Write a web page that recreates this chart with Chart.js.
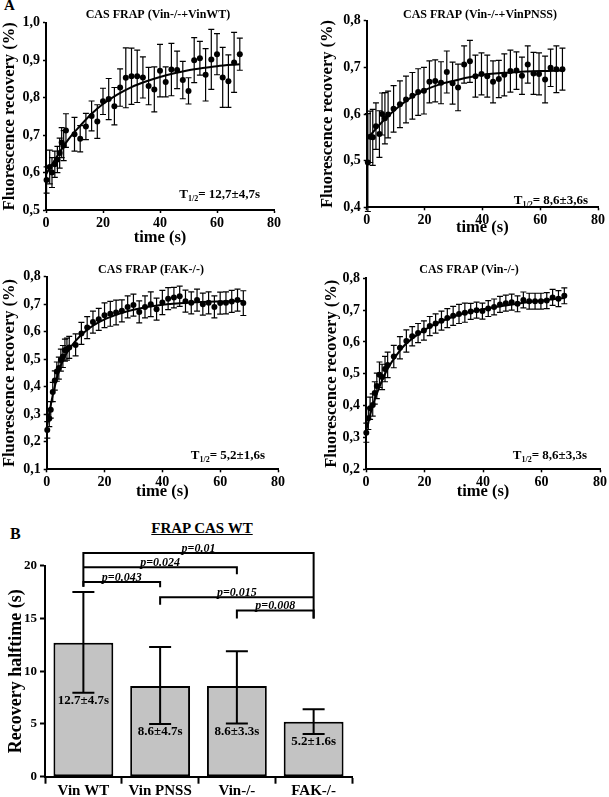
<!DOCTYPE html>
<html>
<head>
<meta charset="utf-8">
<script src="https://cdn.jsdelivr.net/npm/chart.js@4"></script>
<style>
  body { margin: 0; background: #fff; }
  #page { position: relative; width: 609px; height: 797px; overflow: hidden; font-family: "Liberation Serif", serif; font-weight: bold; color: #000; }
  canvas, .txt { position: absolute; }
  .txt { line-height: 1; white-space: nowrap; }
</style>
</head>
<body>
<div id="page">
  <div class="txt" style="left:4px; top:-2px; font-size:15px;">A</div>
  <div class="txt" style="left:10px; top:526px; font-size:16px;">B</div>
  <div class="txt" style="left:145px; top:521px; width:114px; text-align:center; font-size:15px; text-decoration:underline;">FRAP CAS WT</div>
  <canvas id="wt" width="305" height="255" style="left:0; top:0;"></canvas>
  <canvas id="pnss" width="304" height="245" style="left:305px; top:0;"></canvas>
  <canvas id="fak" width="305" height="250" style="left:0; top:260px;"></canvas>
  <canvas id="vin" width="304" height="250" style="left:305px; top:260px;"></canvas>
  <canvas id="bars" width="380" height="297" style="left:0; top:500px;"></canvas>
</div>
<script>
// --- Vin-/- + VinWT
const wtTime = [0.2, 1.3, 2.1, 3.1, 4.0, 4.8, 5.5, 6.2, 7.0, 10, 12, 14, 16, 18, 20, 22, 24, 26, 28, 30, 32, 34, 36, 38, 40, 42, 44, 46, 48, 50, 52, 54, 56, 58, 60, 62, 64, 66, 68];
const wtMean = [0.580, 0.615, 0.600, 0.622, 0.635, 0.652, 0.680, 0.672, 0.712, 0.702, 0.690, 0.723, 0.751, 0.736, 0.790, 0.796, 0.777, 0.827, 0.853, 0.857, 0.857, 0.854, 0.831, 0.822, 0.872, 0.842, 0.875, 0.874, 0.847, 0.818, 0.900, 0.905, 0.861, 0.902, 0.916, 0.854, 0.844, 0.894, 0.916];
const wtErr = [0.035, 0.045, 0.04, 0.035, 0.035, 0.04, 0.04, 0.04, 0.045, 0.045, 0.035, 0.035, 0.04, 0.045, 0.035, 0.055, 0.05, 0.05, 0.08, 0.075, 0.07, 0.055, 0.05, 0.06, 0.07, 0.04, 0.07, 0.05, 0.05, 0.035, 0.06, 0.045, 0.07, 0.08, 0.055, 0.08, 0.07, 0.08, 0.043];
const wtFitTime = [0, 4, 8, 12, 16, 20, 25, 30, 35, 40, 45, 50, 55, 60, 68];
const wtFit = [0.595, 0.645, 0.69, 0.725, 0.757, 0.783, 0.808, 0.828, 0.843, 0.855, 0.865, 0.873, 0.879, 0.884, 0.889];

// --- Vin-/- + VinPNSS
const pnssTime = [0.4, 1.2, 2.1, 3.2, 4.4, 5.3, 6.3, 7.4, 9.3, 11.5, 13.6, 15.8, 17.8, 19.8, 21.7, 23.7, 25.7, 27.7, 29.7, 31.6, 33.7, 35.7, 37.6, 39.7, 41.7, 43.7, 45.7, 47.6, 49.7, 51.8, 53.7, 55.7, 57.7, 59.6, 61.7, 63.6, 65.6, 67.7];
const pnssMean = [0.496, 0.551, 0.550, 0.574, 0.557, 0.600, 0.591, 0.599, 0.611, 0.621, 0.631, 0.639, 0.647, 0.650, 0.669, 0.671, 0.667, 0.690, 0.666, 0.657, 0.706, 0.713, 0.681, 0.686, 0.681, 0.669, 0.675, 0.684, 0.692, 0.693, 0.682, 0.706, 0.687, 0.686, 0.674, 0.699, 0.696, 0.696];
const pnssErr = [0.105, 0.055, 0.06, 0.05, 0.05, 0.045, 0.055, 0.05, 0.05, 0.05, 0.05, 0.05, 0.05, 0.05, 0.045, 0.045, 0.045, 0.045, 0.045, 0.05, 0.04, 0.045, 0.045, 0.045, 0.045, 0.045, 0.04, 0.045, 0.045, 0.04, 0.04, 0.04, 0.045, 0.045, 0.05, 0.04, 0.05, 0.045];
const pnssFitTime = [0, 3, 6, 10, 15, 20, 25, 30, 40, 50, 60, 68];
const pnssFit = [0.545, 0.567, 0.587, 0.610, 0.634, 0.651, 0.663, 0.671, 0.684, 0.689, 0.692, 0.693];

// --- FAK-/-
const fakTime = [0.2, 0.9, 1.4, 2.1, 2.8, 3.5, 4.2, 4.9, 5.6, 6.3, 7.0, 7.8, 10, 12, 14, 16, 18, 20, 22, 24, 26, 28, 30, 32, 34, 36, 38, 40, 42, 44, 46, 48, 50, 52, 54, 56, 58, 60, 62, 64, 66, 68];
const fakMean = [0.243, 0.285, 0.316, 0.381, 0.423, 0.455, 0.468, 0.497, 0.510, 0.533, 0.537, 0.543, 0.552, 0.594, 0.615, 0.635, 0.645, 0.660, 0.665, 0.670, 0.676, 0.690, 0.697, 0.672, 0.690, 0.700, 0.682, 0.706, 0.720, 0.724, 0.729, 0.711, 0.705, 0.715, 0.700, 0.705, 0.690, 0.704, 0.705, 0.710, 0.715, 0.704];
const fakErr = [0.03, 0.03, 0.03, 0.035, 0.035, 0.035, 0.04, 0.04, 0.04, 0.04, 0.04, 0.04, 0.04, 0.04, 0.04, 0.04, 0.04, 0.045, 0.045, 0.045, 0.04, 0.04, 0.04, 0.04, 0.04, 0.045, 0.04, 0.044, 0.04, 0.037, 0.037, 0.04, 0.04, 0.04, 0.04, 0.04, 0.04, 0.04, 0.04, 0.04, 0.04, 0.045];
const fakFitTime = [0, 1, 2, 3, 4, 6, 8, 10, 13, 16, 20, 25, 30, 40, 50, 60, 68];
const fakFit = [0.25, 0.31, 0.365, 0.41, 0.45, 0.505, 0.54, 0.567, 0.598, 0.622, 0.645, 0.665, 0.68, 0.698, 0.706, 0.71, 0.712];

// --- Vin-/-
const vinTime = [0.1, 0.8, 1.4, 2.3, 3.0, 3.7, 4.6, 5.5, 6.5, 7.4, 9.5, 11.6, 13.8, 15.8, 17.8, 19.8, 21.8, 23.8, 25.8, 27.8, 29.8, 31.8, 33.8, 35.8, 37.8, 39.8, 41.8, 43.8, 45.8, 47.8, 49.8, 51.8, 53.8, 55.8, 57.8, 59.8, 61.8, 63.8, 65.8, 67.8];
const vinMean = [0.315, 0.360, 0.392, 0.402, 0.440, 0.462, 0.497, 0.490, 0.515, 0.528, 0.554, 0.582, 0.603, 0.618, 0.628, 0.636, 0.650, 0.658, 0.667, 0.675, 0.682, 0.688, 0.692, 0.696, 0.700, 0.697, 0.705, 0.710, 0.718, 0.722, 0.725, 0.720, 0.732, 0.728, 0.728, 0.728, 0.730, 0.740, 0.736, 0.745];
const vinErr = [0.03, 0.035, 0.035, 0.035, 0.035, 0.04, 0.04, 0.04, 0.04, 0.04, 0.035, 0.035, 0.035, 0.03, 0.03, 0.03, 0.03, 0.03, 0.03, 0.03, 0.03, 0.03, 0.03, 0.025, 0.025, 0.025, 0.025, 0.025, 0.025, 0.025, 0.025, 0.025, 0.025, 0.025, 0.025, 0.025, 0.025, 0.025, 0.025, 0.025];
const vinFitTime = [0, 1, 2, 3, 4, 6, 8, 10, 13, 16, 20, 25, 30, 35, 40, 50, 60, 68];
const vinFit = [0.32, 0.355, 0.39, 0.42, 0.445, 0.49, 0.525, 0.553, 0.588, 0.612, 0.638, 0.662, 0.68, 0.693, 0.703, 0.718, 0.73, 0.738];

// --- B: recovery halftime
const barLabels = ['Vin WT', 'Vin PNSS', 'Vin-/-', 'FAK-/-'];
const halftime = [12.7, 8.6, 8.6, 5.2];
const halftimeHigh = [17.5, 12.3, 11.9, 6.4];
const halftimeLow = [7.95, 5.0, 5.05, 4.05];
const barText = ['12.7±4.7s', '8.6±4.7s', '8.6±3.3s', '5.2±1.6s'];

// significance brackets (category index from/to, heights in s)
const pText = ['p=0.01', 'p=0.024', 'p=0.043', 'p=0.015', 'p=0.008'];
const pFrom = [0, 0, 0, 1, 2];
const pTo = [3, 2, 1, 3, 3];
const pLevel = [21.2, 19.85, 18.45, 17.0, 15.75];
const pLeftEnd = [18.0, 19.85, 18.0, 16.3, 15.0];
const pRightEnd = [15.0, 19.2, 17.95, 17.0, 15.0];

Chart.defaults.font.family = '"Liberation Serif", serif';
Chart.defaults.font.weight = 'bold';
Chart.defaults.color = '#000';

const FONT = '"Liberation Serif", serif';

const errorBars = {
  id: 'errorBars',
  afterDatasetsDraw(chart) {
    const { ctx, scales: { y } } = chart;
    chart.data.datasets.forEach((ds, i) => {
      if (!ds.errLow) return;
      const meta = chart.getDatasetMeta(i);
      const cap = ds.capWidth || 3;
      ctx.save();
      ctx.strokeStyle = '#000';
      ctx.lineWidth = ds.errWidth || 1.2;
      meta.data.forEach((el, j) => {
        const top = y.getPixelForValue(ds.errHigh[j]);
        const bot = y.getPixelForValue(ds.errLow[j]);
        ctx.beginPath();
        ctx.moveTo(el.x, top); ctx.lineTo(el.x, bot);
        ctx.moveTo(el.x - cap, top); ctx.lineTo(el.x + cap, top);
        ctx.moveTo(el.x - cap, bot); ctx.lineTo(el.x + cap, bot);
        ctx.stroke();
      });
      ctx.restore();
    });
  }
};

const panelText = {
  id: 'panelText',
  afterDraw(chart, args, opts) {
    const { ctx, chartArea } = chart;
    ctx.save();
    ctx.fillStyle = '#000';
    ctx.textBaseline = 'middle';
    ctx.textAlign = 'center';
    ctx.font = 'bold 12px ' + FONT;
    ctx.fillText(opts.title, opts.titleX, opts.titleY);

    // T1/2 annotation, right aligned
    ctx.textAlign = 'left';
    ctx.textBaseline = 'alphabetic';
    const big = 'bold 13px ' + FONT, small = 'bold 8px ' + FONT;
    const rest = '= ' + opts.t12;
    ctx.font = big;
    const wT = ctx.measureText('T').width, wR = ctx.measureText(rest).width;
    ctx.font = small;
    const wS = ctx.measureText('1/2').width;
    let xx = chartArea.right - opts.dx - (wT + wS + wR);
    const base = chartArea.bottom - opts.dy;
    ctx.font = big; ctx.fillText('T', xx, base); xx += wT;
    ctx.font = small; ctx.fillText('1/2', xx, base + 3); xx += wS;
    ctx.font = big; ctx.fillText(rest, xx, base);
    ctx.restore();
  }
};

const comma = v => v.toFixed(1).replace('.', ',');

function frapPanel(id, time, mean, err, fitTime, fit, yMin, yMax, lay) {
  return new Chart(document.getElementById(id), {
    type: 'scatter',
    data: {
      datasets: [
        {
          data: time.map((t, i) => ({ x: t, y: mean[i] })),
          errLow: mean.map((m, i) => m - err[i]),
          errHigh: mean.map((m, i) => m + err[i]),
          pointRadius: 3, backgroundColor: '#000', borderColor: '#000', borderWidth: 0,
          clip: false
        },
        {
          data: fitTime.map((t, i) => ({ x: t, y: fit[i] })),
          showLine: true, pointRadius: 0, borderColor: '#000', borderWidth: 2,
          cubicInterpolationMode: 'monotone', clip: false
        }
      ]
    },
    options: {
      responsive: false, animation: false, events: [],
      layout: { padding: lay.pad },
      plugins: {
        legend: { display: false }, tooltip: { enabled: false },
        panelText: lay.text
      },
      scales: {
        x: {
          type: 'linear', min: 0, max: 80,
          ticks: { stepSize: 20, font: { size: 14 }, padding: 2, maxRotation: 0 },
          grid: { drawOnChartArea: false, tickLength: 3, color: '#000', tickWidth: 1.5 },
          border: { color: '#000', width: 2 },
          title: { display: true, text: 'time (s)', font: { size: 16.5 }, padding: { top: 0, bottom: lay.xTitlePad } },
          afterFit: s => { s.height = lay.xH; }
        },
        y: {
          min: yMin, max: yMax,
          ticks: { stepSize: 0.1, font: { size: 14 }, padding: 3, callback: comma },
          grid: { drawOnChartArea: false, tickLength: 3, color: '#000', tickWidth: 1.5 },
          border: { color: '#000', width: 2 },
          title: { display: true, text: 'Fluorescence recovery (%)', font: { size: 16.5 }, padding: { top: 0, bottom: 0 } },
          afterFit: s => { s.width = lay.yW; }
        }
      }
    },
    plugins: [errorBars, panelText]
  });
}

frapPanel('wt', wtTime, wtMean, wtErr, wtFitTime, wtFit, 0.5, 1.0, {
  pad: { left: 0, top: 22.7, right: 31, bottom: 0 }, yW: 46, xH: 45, xTitlePad: 7,
  text: { title: 'CAS FRAP (Vin-/-+VinWT)', titleX: 158, titleY: 15, t12: '12,7±4,7s', dx: 14, dy: 12 }
});
frapPanel('pnss', pnssTime, pnssMean, pnssErr, pnssFitTime, pnssFit, 0.4, 0.8, {
  pad: { left: 13, top: 20.7, right: 11, bottom: 0 }, yW: 48.7, xH: 37.7, xTitlePad: 7,
  text: { title: 'CAS FRAP (Vin-/-+VinPNSS)', titleX: 175, titleY: 15, t12: '8,6±3,6s', dx: 10, dy: 3 }
});
frapPanel('fak', fakTime, fakMean, fakErr, fakFitTime, fakFit, 0.1, 0.8, {
  pad: { left: 0, top: 16.7, right: 27, bottom: 0 }, yW: 46.7, xH: 40.7, xTitlePad: 8,
  text: { title: 'CAS FRAP (FAK-/-)', titleX: 151, titleY: 10, t12: '5,2±1,6s', dx: 13, dy: 10.5 }
});
frapPanel('vin', vinTime, vinMean, vinErr, vinFitTime, vinFit, 0.2, 0.8, {
  pad: { left: 17, top: 18.3, right: 7, bottom: 0 }, yW: 44, xH: 40.7, xTitlePad: 8,
  text: { title: 'CAS FRAP (Vin-/-)', titleX: 164, titleY: 10, t12: '8,6±3,3s', dx: 13, dy: 10 }
});

const barExtras = {
  id: 'barExtras',
  afterDraw(chart) {
    const { ctx, scales: { x, y } } = chart;
    ctx.save();
    ctx.fillStyle = '#000';
    ctx.strokeStyle = '#000';
    // values inside bars
    ctx.font = 'bold 13px ' + FONT;
    ctx.textAlign = 'center';
    ctx.textBaseline = 'middle';
    barText.forEach((t, i) => {
      ctx.fillText(t, x.getPixelForValue(i), y.getPixelForValue(halftimeLow[i]) + 8);
    });
    // significance brackets
    ctx.lineWidth = 2;
    ctx.font = 'italic bold 12px ' + FONT;
    ctx.textBaseline = 'alphabetic';
    pText.forEach((t, k) => {
      const x1 = x.getPixelForValue(pFrom[k]), x2 = x.getPixelForValue(pTo[k]);
      const yt = y.getPixelForValue(pLevel[k]);
      ctx.beginPath();
      ctx.moveTo(x1, y.getPixelForValue(pLeftEnd[k]));
      ctx.lineTo(x1, yt);
      ctx.lineTo(x2, yt);
      ctx.lineTo(x2, y.getPixelForValue(pRightEnd[k]));
      ctx.stroke();
      ctx.fillText(t, (x1 + x2) / 2, yt - 1.5);
    });
    ctx.restore();
  }
};

new Chart(document.getElementById('bars'), {
  type: 'bar',
  data: {
    labels: barLabels,
    datasets: [{
      data: halftime,
      errLow: halftimeLow, errHigh: halftimeHigh, capWidth: 11, errWidth: 2,
      backgroundColor: '#c3c3c3', borderColor: '#000', borderWidth: 2, borderSkipped: false,
      barPercentage: 0.78, categoryPercentage: 1
    }]
  },
  options: {
    responsive: false, animation: false, events: [],
    layout: { padding: { left: 0, top: 65.7, right: 28, bottom: 0 } },
    plugins: { legend: { display: false }, tooltip: { enabled: false } },
    scales: {
      x: {
        ticks: { font: { size: 15, lineHeight: 1 }, padding: 0, maxRotation: 0, autoSkip: false },
        grid: { offset: true, drawOnChartArea: false, tickLength: 7, color: '#000', tickWidth: 2 },
        border: { color: '#000', width: 2 },
        afterFit: s => { s.height = 20.3; }
      },
      y: {
        min: 0, max: 20,
        ticks: { stepSize: 5, font: { size: 13 }, padding: 3 },
        grid: { drawOnChartArea: false, tickLength: 5, color: '#000', tickWidth: 2 },
        border: { color: '#000', width: 2 },
        title: { display: true, text: 'Recovery halftime (s)', font: { size: 18 }, padding: { top: 6, bottom: 0 } },
        afterFit: s => { s.width = 45; }
      }
    }
  },
  plugins: [errorBars, barExtras]
});
</script>
</body>
</html>
